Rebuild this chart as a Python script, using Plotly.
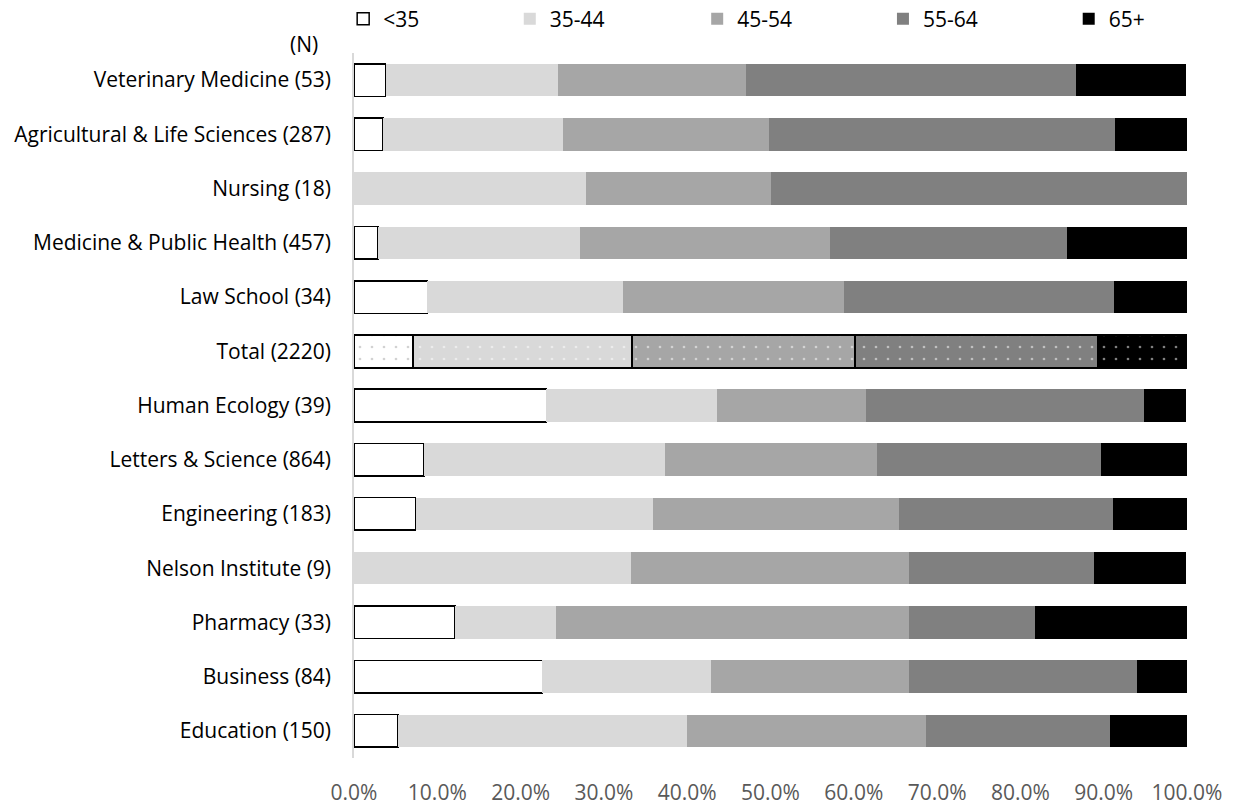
import plotly.graph_objects as go

# Colleges with headcount, top to bottom
categories = [
    "Veterinary Medicine (53)",
    "Agricultural & Life Sciences (287)",
    "Nursing (18)",
    "Medicine & Public Health (457)",
    "Law School (34)",
    "Total (2220)",
    "Human Ecology (39)",
    "Letters & Science (864)",
    "Engineering (183)",
    "Nelson Institute (9)",
    "Pharmacy (33)",
    "Business (84)",
    "Education (150)",
]

age_groups = ["<35", "35-44", "45-54", "55-64", "65+"]

# Share of faculty in each age group (%)
under_35 = [3.8, 3.5, 0.0, 2.9, 8.8, 7.1, 23.1, 8.4, 7.4, 0.0, 12.1, 22.6, 5.3]
age_35_44 = [20.7, 21.6, 27.8, 24.2, 23.5, 26.3, 20.5, 28.9, 28.5, 33.3, 12.1, 20.2, 34.7]
age_45_54 = [22.6, 24.7, 22.2, 30.0, 26.5, 26.7, 17.9, 25.5, 29.5, 33.3, 42.4, 23.8, 28.7]
age_55_64 = [39.6, 41.5, 50.0, 28.5, 32.4, 29.2, 33.3, 26.9, 25.7, 22.2, 15.2, 27.4, 22.0]
age_65_up = [13.2, 8.7, 0.0, 14.4, 8.8, 10.7, 5.1, 10.3, 8.9, 11.1, 18.2, 6.0, 9.3]

x_ticks = [0, 10, 20, 30, 40, 50, 60, 70, 80, 90, 100]

series = [under_35, age_35_44, age_45_54, age_55_64, age_65_up]
fills = ["#ffffff", "#d9d9d9", "#a6a6a6", "#808080", "#000000"]
dot_colors = ["#a6a6a6", "#ffffff", "#ffffff", "#ffffff", "#ffffff"]
legend_ids = ["legend", "legend2", "legend3", "legend4", "legend5"]
legend_x = [-0.013, 0.187, 0.412, 0.635, 0.858]

FONT = "Open Sans, sans-serif"
SIZE = 21
total_label = "Total (2220)"

fig = go.Figure()

# College bars (the total row is drawn separately with a dotted fill)
for name, vals, fill, lg in zip(age_groups, series, fills, legend_ids):
    xs = [None if (c == total_label or v == 0) else v for c, v in zip(categories, vals)]
    outlined = name == "<35"
    fig.add_trace(go.Bar(
        y=categories, x=xs, orientation="h", name=name, legend=lg,
        marker=dict(color=fill,
                    line=dict(color="#000000" if outlined else fill,
                              width=1.5 if outlined else 0)),
        hoverinfo="name+x",
    ))

# Total row: outlined, dotted segments
idx = categories.index(total_label)
for name, vals, fill, dot in zip(age_groups, series, fills, dot_colors):
    fig.add_trace(go.Bar(
        y=[total_label], x=[vals[idx]], orientation="h", name=name,
        showlegend=False,
        marker=dict(color=fill, line=dict(color="#000000", width=2),
                    pattern=dict(shape=".", fgcolor=dot, bgcolor=fill,
                                 size=12, solidity=0.04)),
        hoverinfo="name+x",
    ))

legend_style = dict(
    orientation="h", xanchor="left", y=1.0482, yanchor="middle",
    font=dict(family=FONT, size=SIZE, color="#000000"),
    itemwidth=30, bgcolor="rgba(0,0,0,0)",
)
legends = {lg: dict(x=x, **legend_style) for lg, x in zip(legend_ids, legend_x)}

fig.update_layout(
    width=1234, height=806,
    barmode="stack",
    bargap=0.4,
    plot_bgcolor="#ffffff",
    paper_bgcolor="#ffffff",
    margin=dict(l=354, r=47, t=53, b=48, autoexpand=False),
    font=dict(family=FONT, size=SIZE, color="#000000"),
    xaxis=dict(
        range=[0, 100], tickvals=x_ticks,
        ticktext=[f"{t:.1f}%" for t in x_ticks],
        showgrid=False, zeroline=False, showline=False, ticks="",
        tickfont=dict(family=FONT, size=SIZE, color="#595959"),
        ticklabelstandoff=20, automargin=False,
    ),
    yaxis=dict(
        autorange="reversed", showgrid=False, zeroline=False,
        showline=True, linecolor="#d9d9d9", linewidth=1.5, ticks="",
        tickfont=dict(family=FONT, size=SIZE, color="#000000"),
        ticklabelstandoff=17, automargin=False,
    ),
    annotations=[dict(
        text="(N)", xref="paper", yref="paper", x=-0.060, y=1.0128,
        xanchor="center", yanchor="middle", showarrow=False,
        font=dict(family=FONT, size=SIZE, color="#000000"),
    )],
    **legends,
)

fig.write_html("out.html")
